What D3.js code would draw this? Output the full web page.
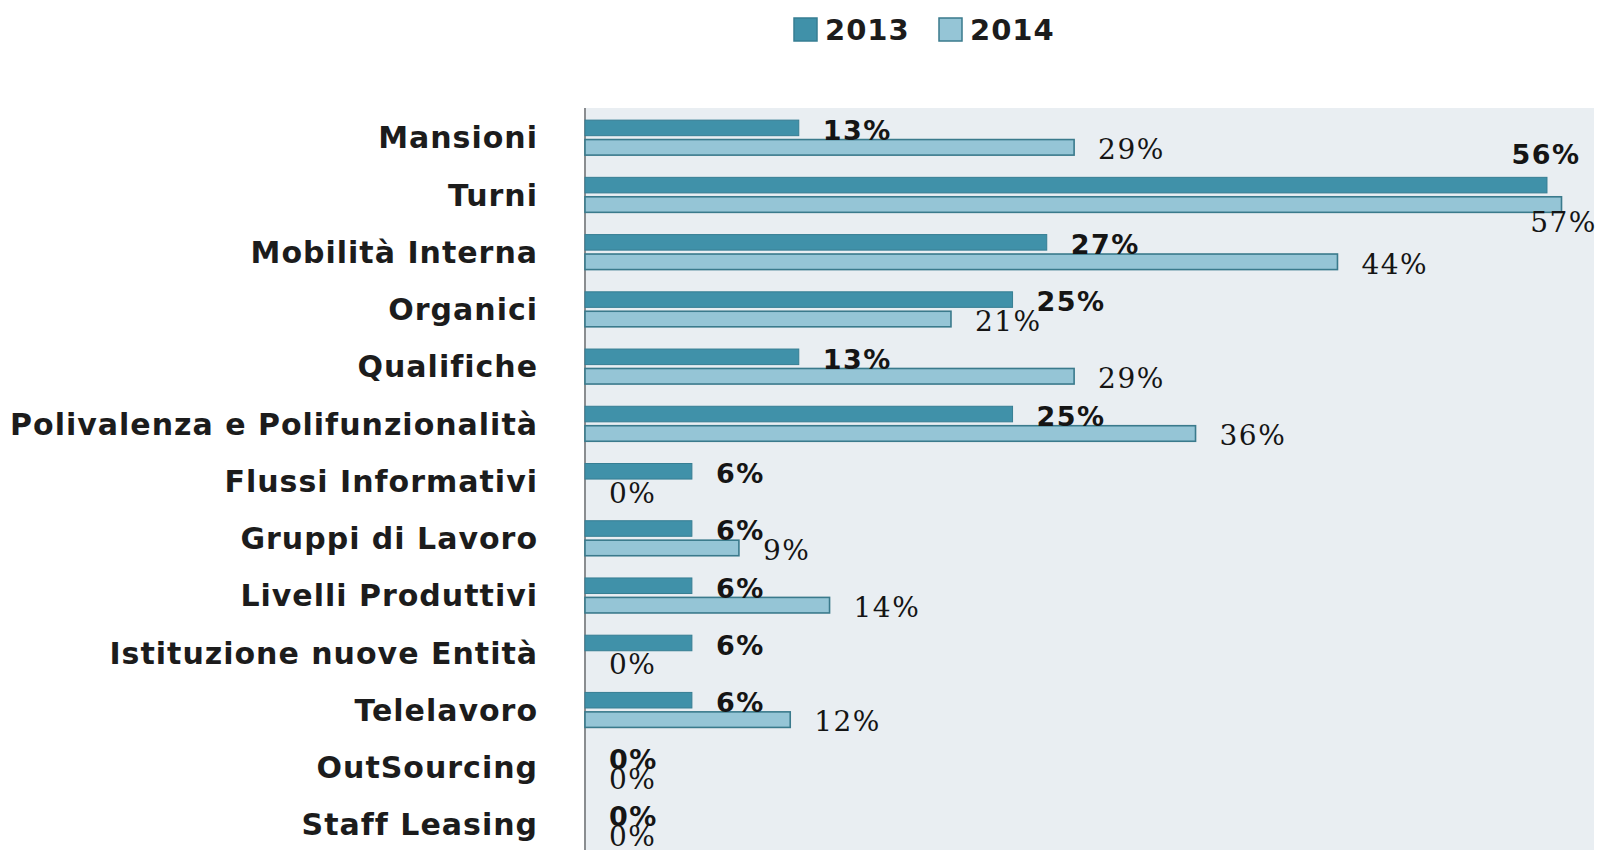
<!DOCTYPE html>
<html>
<head>
  <meta charset="utf-8">
  <title>2013 vs 2014</title>
  <script src="https://cdn.jsdelivr.net/npm/d3@7"></script>
  <style>
    body { margin: 0; background: #fff; }
    svg { display: block; }
  </style>
</head>
<body>
  <div id="chart"></div>
  <script>
    const categories = [
      "Mansioni", "Turni", "Mobilità Interna", "Organici", "Qualifiche",
      "Polivalenza e Polifunzionalità", "Flussi Informativi", "Gruppi di Lavoro",
      "Livelli Produttivi", "Istituzione nuove Entità", "Telelavoro",
      "OutSourcing", "Staff Leasing"
    ]
    const years = ["2013", "2014"]
    const values2013 = [12.5, 56.25, 27, 25, 12.5, 25, 6.25, 6.25, 6.25, 6.25, 6.25, 0, 0]
    const values2014 = [28.6, 57.1, 44, 21.4, 28.6, 35.7, 0, 9, 14.3, 0, 12, 0, 0]

    const width = 1603
    const height = 850

    const plot = { left: 585, right: 1594, top: 108, bottom: 853 }

    const fills = { "2013": "#4091a9", "2014": "#95c5d6" }
    const strokes = { "2013": "#367e93", "2014": "#3a7a8c" }

    const rows = categories.map((c, i) => ({
      cat: c,
      vals: [
        { year: "2013", v: values2013[i] },
        { year: "2014", v: values2014[i] }
      ]
    }))

    const svg = d3.select("#chart")
      .append("svg")
      .attr("width", width)
      .attr("height", height)

    // plot background
    svg.append("rect")
      .attr("x", plot.left)
      .attr("y", plot.top)
      .attr("width", plot.right - plot.left)
      .attr("height", plot.bottom - plot.top)
      .attr("fill", "#e9eef2")

    const x = d3.scaleLinear()
      .domain([0, 59])
      .range([plot.left, plot.right])

    const y0 = d3.scaleBand()
      .domain(categories)
      .range([plot.top + 1, plot.bottom])
      .padding(0)

    const y1 = d3.scaleBand()
      .domain(years)
      .range([0, 35])
      .paddingInner(0.2)

    const groupOffset = y0.bandwidth() / 2 - 17.5

    // category axis
    const yAxis = svg.append("g")
      .attr("transform", `translate(${plot.left},0)`)
      .call(d3.axisLeft(y0).tickSize(0).tickPadding(47))

    yAxis.select(".domain")
      .attr("stroke", "#8a8d90")
      .attr("stroke-width", 2)
      .attr("d", `M0,${plot.top}V${height}`)

    yAxis.selectAll("text")
      .attr("font-family", "DejaVu Sans, sans-serif")
      .attr("font-weight", "bold")
      .attr("font-size", 30)
      .attr("letter-spacing", 1)
      .attr("fill", "#1c1c1c")
      .attr("dy", "0.36em")

    const group = svg.append("g")
      .selectAll("g")
      .data(rows)
      .enter()
      .append("g")
      .attr("transform", d => `translate(0,${y0(d.cat) + groupOffset})`)

    group.selectAll("rect")
      .data(d => d.vals)
      .enter()
      .append("rect")
      .attr("x", x(0))
      .attr("y", d => y1(d.year))
      .attr("width", d => x(d.v) - x(0))
      .attr("height", y1.bandwidth())
      .attr("fill", d => fills[d.year])
      .attr("stroke", d => d.v > 0 ? strokes[d.year] : "none")
      .attr("stroke-width", d => d.year === "2014" ? 1.6 : 1)

    // value labels
    group.selectAll("text")
      .data(d => d.vals)
      .enter()
      .append("text")
      .text(d => Math.round(d.v) + "%")
      .attr("font-family", d => d.year === "2013" ? "DejaVu Sans, sans-serif" : "DejaVu Serif, serif")
      .attr("font-weight", d => d.year === "2013" ? "bold" : "normal")
      .attr("font-size", d => d.year === "2013" ? 27 : 28)
      .attr("letter-spacing", 1.5)
      .attr("fill", "#151515")
      .each(function (d) {
        const end = x(d.v)
        const top = y1(d.year)
        const bottom = top + y1.bandwidth()
        const t = d3.select(this)
        if (end + 24 + 70 > plot.right) {
          // no room on the right: label sits above / below the bar end
          t.attr("text-anchor", "middle")
            .attr("x", d.year === "2013" ? end - 1 : end + 2)
            .attr("y", d.year === "2013" ? top - 13 : bottom + 20)
        } else {
          t.attr("x", end + 24)
            .attr("y", bottom + 4)
        }
      })

    // legend
    const legend = svg.append("g")
      .selectAll("g")
      .data(years)
      .enter()
      .append("g")
      .attr("transform", (d, i) => `translate(${794 + i * 145},18)`)

    legend.append("rect")
      .attr("width", 23)
      .attr("height", 23)
      .attr("fill", d => fills[d])
      .attr("stroke", d => strokes[d])
      .attr("stroke-width", 1.5)

    legend.append("text")
      .attr("x", 31)
      .attr("y", 11.5)
      .attr("dy", "0.36em")
      .text(d => d)
      .attr("font-family", "DejaVu Sans, sans-serif")
      .attr("font-weight", "bold")
      .attr("font-size", 29)
      .attr("letter-spacing", 1)
      .attr("fill", "#1c1c1c")
  </script>
</body>
</html>
